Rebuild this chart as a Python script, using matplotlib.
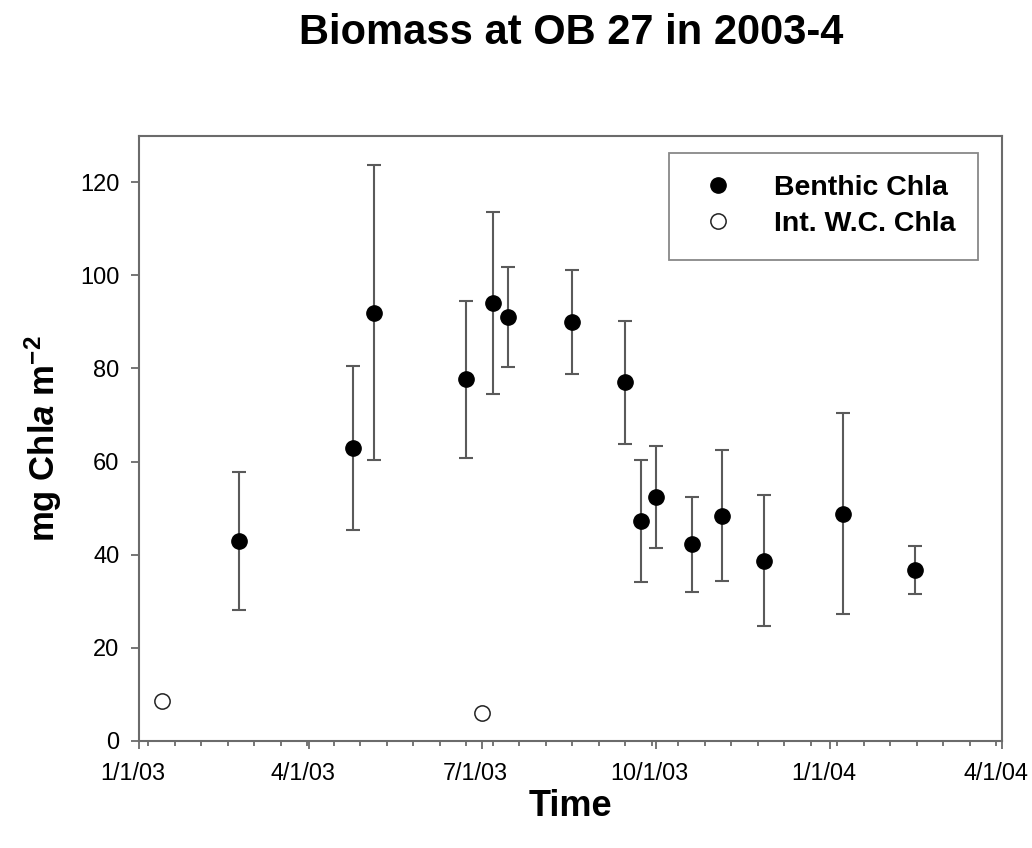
import matplotlib
matplotlib.use("Agg")
import matplotlib.pyplot as plt
import matplotlib.dates as mdates
from matplotlib.ticker import FixedLocator
from matplotlib.transforms import ScaledTranslation
import pandas as pd
import numpy as np

plt.rcParams['font.family'] = ['Liberation Sans', 'DejaVu Sans']
plt.rcParams['mathtext.fontset'] = 'custom'
plt.rcParams['mathtext.rm'] = 'Liberation Sans:bold'
plt.rcParams['mathtext.it'] = 'Liberation Sans:bold:italic'
plt.rcParams['mathtext.bf'] = 'Liberation Sans:bold'

# Benthic chlorophyll a (mean and standard deviation)
benthic_dates = ["2003-02-23", "2003-04-24", "2003-05-05", "2003-06-23", "2003-07-07",
                 "2003-07-15", "2003-08-18", "2003-09-15", "2003-09-23", "2003-10-01",
                 "2003-10-20", "2003-11-05", "2003-11-27", "2004-01-08", "2004-02-15"]
benthic_chla = [43.0, 63.0, 92.0, 77.7, 94.1, 91.1, 90.0, 77.0, 47.3, 52.4,
                42.3, 48.4, 38.7, 48.8, 36.7]
benthic_sd = [14.8, 17.6, 31.6, 16.9, 19.5, 10.7, 11.2, 13.3, 13.1, 11.0,
              10.2, 14.0, 14.1, 21.6, 5.2]

# Integrated water-column chlorophyll a
wc_dates = ["2003-01-13", "2003-07-01"]
wc_chla = [8.5, 6.0]

x_tick_dates = ["2003-01-01", "2003-04-01", "2003-07-01", "2003-10-01",
                "2004-01-01", "2004-04-01"]
x_tick_labels = ["1/1/03", "4/1/03", "7/1/03", "10/1/03", "1/1/04", "4/1/04"]

bd = pd.to_datetime(benthic_dates)
wd = pd.to_datetime(wc_dates)
major = pd.to_datetime(x_tick_dates)

fig = plt.figure(figsize=(10.32, 8.48), dpi=100)
ax = fig.add_axes([0.1347, 0.1262, 0.8363, 0.7138])

spine_col = '#6b6b6b'
ax.errorbar(bd, benthic_chla, yerr=benthic_sd, fmt='none', ecolor='#5a5a5a',
            elinewidth=1.5, capsize=5, capthick=1.5, zorder=2)
ax.plot(bd, benthic_chla, 'o', color='black', markersize=11, linestyle='none',
        label='Benthic Chla', zorder=3)
ax.plot(wd, wc_chla, 'o', markerfacecolor='white', markeredgecolor='#222222',
        markeredgewidth=1.1, markersize=11, linestyle='none',
        label='Int. W.C. Chla', zorder=3)

ax.set_xlim(major[0], major[-1])
ax.set_ylim(0, 130)
ax.xaxis.set_major_locator(FixedLocator(mdates.date2num(major)))
ax.set_xticklabels(x_tick_labels)
# biweekly minor ticks
minor = pd.date_range("2003-01-06", "2004-04-01", freq="14D")
ax.xaxis.set_minor_locator(FixedLocator(mdates.date2num(minor)))
ax.set_yticks(np.arange(0, 121, 20))

for s in ax.spines.values():
    s.set_color(spine_col)
    s.set_linewidth(1.5)
ax.tick_params(axis='both', which='major', direction='out', length=6, width=1.3,
               color=spine_col, labelsize=17, labelcolor='black')
ax.tick_params(axis='x', which='major', labelsize=16.8, pad=9)
ax.tick_params(axis='x', which='minor', direction='out', length=3.5, width=1.3,
               color=spine_col)
ax.tick_params(axis='y', which='major', pad=8)

# date labels sit slightly left of their ticks
shift = ScaledTranslation(-6 / 100, 0, fig.dpi_scale_trans)
for lbl in ax.get_xticklabels():
    lbl.set_transform(lbl.get_transform() + shift)

ax.set_xlabel('Time', fontsize=26, fontweight='bold', labelpad=3)
ax.set_ylabel(r'mg Chl$\mathit{a}$ m$^{\mathrm{-2}}$', fontsize=25,
              fontweight='bold', labelpad=12)
fig.suptitle('Biomass at OB 27 in 2003-4', fontsize=30, fontweight='bold',
             x=0.553, y=0.985)

leg = ax.legend(loc='upper right', bbox_to_anchor=(0.972, 0.972), borderaxespad=0,
                frameon=True, fancybox=False, edgecolor=spine_col,
                prop={'weight': 'bold', 'size': 20.5}, handletextpad=1.05,
                borderpad=0.8, labelspacing=0.35, handlelength=1.84)
leg.get_frame().set_linewidth(1.3)

fig.savefig('out.png', dpi=100, facecolor='white')
